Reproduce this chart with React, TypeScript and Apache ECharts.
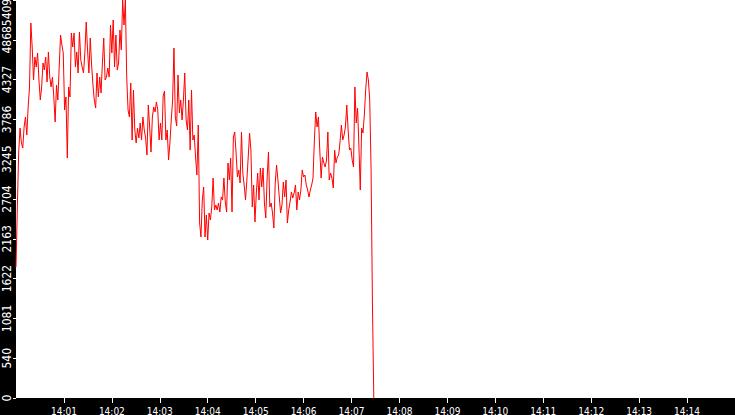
import React, { useEffect, useRef } from "react";
import * as echarts from "echarts";

// Sampled values (one sample every SAMPLE_STEP seconds from 14:00:00)
const SAMPLE_STEP = 1.69;
const values = [
  1780, 2596, 3343, 3669, 3465, 3398, 3683, 3819, 3574, 3955,
  4227, 5096, 4770, 4322, 4634, 4498, 4689, 4322, 4050, 4227,
  4553, 4458, 4634, 4295, 4703, 4362, 4227, 4362, 4091, 3751,
  4254, 4050, 4498, 4933, 4797, 4689, 3914, 4091, 3262, 4227,
  4091, 4960, 4770, 4960, 4498, 4703, 4417, 4974, 4593, 4498,
  4417, 4689, 5110, 4729, 4417, 4892, 4525, 4254, 4050, 3941,
  4417, 4091, 4362, 4145, 4553, 4892, 4322, 4362, 4485, 4362,
  5069, 4689, 5137, 4498, 4933, 4458, 4553, 5001, 4729, 5409,
  5069, 5409, 4362, 3914, 3819, 4281, 3506, 4186, 3642, 3465,
  3669, 3533, 3737, 3506, 3819, 3642, 3533, 3302, 3982, 3683,
  3343, 3819, 3955, 3887, 4023, 3914, 3506, 3737, 3506, 4104,
  4172, 3506, 3642, 3234, 3465, 3778, 4050, 4756, 3819, 3696,
  4390, 3873, 4050, 3778, 4050, 4417, 3778, 3642, 4050, 3370,
  4186, 3506, 3574, 3275, 3030, 3710, 2378, 2188, 2691, 2868,
  2188, 2487, 2147, 2514, 2419, 2596, 2990, 2555, 2623, 2555,
  2650, 2528, 2732, 2691, 2990, 2664, 2528, 3194, 2963, 3262,
  2528, 3547, 3615, 3330, 3004, 3099, 2922, 3615, 3058, 2895,
  2691, 2963, 3275, 3601, 3370, 2596, 2895, 2392, 2786, 3058,
  2691, 3126, 2868, 3126, 2650, 2446, 2990, 3343, 2596, 2650,
  2514, 2310, 2922, 3166, 2963, 2732, 2514, 2623, 2935, 2732,
  2963, 2378, 2555, 2664, 2800, 2718, 2786, 2895, 2555, 2800,
  2691, 2827, 3099, 3004, 3030, 2895, 2827, 2732, 2827, 2895,
  2990, 3506, 3887, 3683, 3819, 3370, 2990, 3275, 3194, 3139,
  3234, 3615, 2963, 3058, 2990, 2854, 3370, 3194, 3275, 3302,
  3479, 3710, 3506, 3574, 3683, 3982, 3642, 3370, 3398, 3234,
  3139, 4227, 3737, 3941, 3411, 2827, 3669, 3601, 3846, 4186,
  4430, 4322, 4050, 3099, 1291, 0,
];

// X axis: seconds after 14:00:00, one tick per minute
const xTickSeconds = [60, 120, 180, 240, 300, 360, 420, 480, 540, 600, 660, 720, 780, 840];
const xTickLabels = [
  "14:01", "14:02", "14:03", "14:04", "14:05", "14:06", "14:07",
  "14:08", "14:09", "14:10", "14:11", "14:12", "14:13", "14:14",
];
const X_MIN = 0;
const X_MAX = 900;

// Y axis
const Y_MAX = 5409;
const Y_STEP = 540.9;
const yTickLabels = ["0", "540", "1081", "1622", "2163", "2704", "3245", "3786", "4327", "4868", "5409"];

const FONT = "'Liberation Sans Narrow', 'DejaVu Sans Condensed', 'Liberation Sans', sans-serif";

export default function App() {
  const ref = useRef<HTMLDivElement>(null);

  useEffect(() => {
    if (!ref.current) return;
    const chart = echarts.init(ref.current, undefined, { renderer: "svg" });
    const data = values.map((v, i) => [i * SAMPLE_STEP, v]);
    chart.setOption({
      animation: false,
      backgroundColor: "#000000",
      grid: {
        left: 16,
        right: 0,
        top: 0,
        bottom: 17,
        containLabel: false,
        outerBoundsMode: "none",
        show: true,
        backgroundColor: "#ffffff",
        borderWidth: 0,
      },
      xAxis: {
        type: "value",
        min: X_MIN,
        max: X_MAX,
        interval: 60,
        splitLine: { show: false },
        axisLine: { show: false },
        axisTick: {
          show: true,
          length: 5,
          inside: false,
          customValues: xTickSeconds,
          lineStyle: { color: "#ffffff", width: 1 },
        },
        axisLabel: {
          color: "#ffffff",
          fontSize: 10,
          fontFamily: FONT,
          margin: 8,
          customValues: xTickSeconds,
          formatter: (v: number) => {
            const i = xTickSeconds.indexOf(Math.round(v));
            return i >= 0 ? xTickLabels[i] : "";
          },
        },
      },
      yAxis: {
        type: "value",
        min: 0,
        max: Y_MAX,
        interval: Y_STEP,
        splitLine: { show: false },
        axisLine: { show: false },
        axisTick: {
          show: true,
          length: 3,
          lineStyle: { color: "#ffffff", width: 1 },
        },
        axisLabel: {
          rotate: 90,
          color: "#ffffff",
          fontSize: 12,
          fontFamily: FONT,
          margin: 3,
          showMinLabel: true,
          showMaxLabel: true,
          hideOverlap: false,
          formatter: (v: number) => {
            const i = Math.round(v / Y_STEP);
            const label = yTickLabels[i] ?? "";
            return i === yTickLabels.length - 1 ? `{top|${label}}` : label;
          },
          rich: {
            top: {
              color: "#ffffff",
              fontSize: 12,
              fontFamily: FONT,
              padding: [0, 25, 0, 0],
            },
          },
        },
      },
      series: [
        {
          type: "line",
          data,
          symbol: "none",
          showSymbol: false,
          lineStyle: { color: "#ff0000", width: 1 },
          itemStyle: { color: "#ff0000" },
          clip: true,
        },
      ],
    });
    return () => chart.dispose();
  }, []);

  return (
    <div
      ref={ref}
      style={{ position: "fixed", left: 0, top: 0, width: 735, height: 415 }}
    />
  );
}
